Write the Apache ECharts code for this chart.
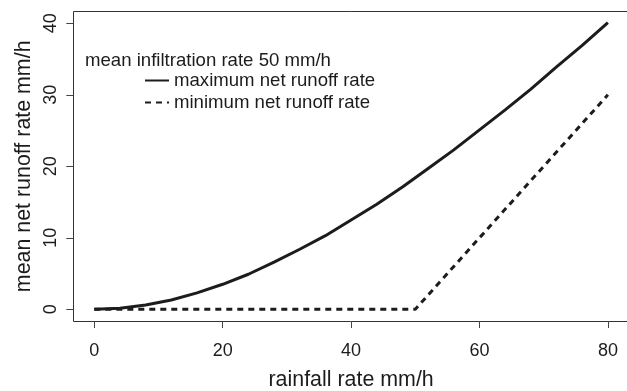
<!DOCTYPE html>
<html>
<head>
<meta charset="utf-8">
<script src="https://cdn.jsdelivr.net/npm/echarts@6/dist/echarts.min.js"></script>
<style>html,body{margin:0;padding:0;background:#fff;}#c{width:627px;height:391px;}</style>
</head>
<body>
<div id="c"></div>
<script>
const rainfall = [0,4,8,12,16,20,24,28,32,36,40,44,48,52,56,60,64,68,72,76,80];
const maxRunoff = [0,0.15,0.6,1.3,2.3,3.5,4.9,6.6,8.4,10.3,12.5,14.7,17.1,19.7,22.3,25.1,27.9,30.8,33.9,36.9,40.1];
const minRainfall = [0,50,80];
const minRunoff = [0,0,30];
const xTicks = [0,20,40,60,80];
const yTicks = [0,10,20,30,40];
const legendTitle = 'mean infiltration rate 50 mm/h';
const seriesNames = ['maximum net runoff rate','minimum net runoff rate'];
const xTitle = 'rainfall rate mm/h';
const yTitle = 'mean net runoff rate mm/h';

const font = "'Liberation Sans', Arial, Helvetica, sans-serif";
const ink = '#1c1c1c';
const chart = echarts.init(document.getElementById('c'));
chart.setOption({
  animation: false,
  backgroundColor: '#fff',
  title: {
    text: legendTitle, left: 80, top: 46,
    textStyle: {fontFamily: font, fontSize: 18.6, fontWeight: 'normal', color: ink}
  },
  legend: {
    orient: 'vertical', left: 139, top: 66, itemGap: 3,
    itemWidth: 24, itemHeight: 14,
    data: seriesNames,
    itemStyle: {opacity: 0},
    textStyle: {fontFamily: font, fontSize: 18.6, color: ink}
  },
  grid: {left: 94.3, top: 23.3, width: 513.6, height: 286, show: false, containLabel: false, outerBoundsMode: 'none'},
  xAxis: [{
    type: 'value', min: xTicks[0], max: xTicks[xTicks.length - 1], interval: 20, offset: 11.7, position: 'bottom',
    name: xTitle, nameLocation: 'middle', nameGap: 49,
    nameTextStyle: {fontFamily: font, fontSize: 21.4, color: ink},
    axisLine: {show: false, onZero: false},
    axisTick: {show: true, length: 7, lineStyle: {color: '#444', width: 1}},
    axisLabel: {fontFamily: font, fontSize: 18, color: ink, margin: 21},
    splitLine: {show: false}
  }],
  yAxis: [{
    type: 'value', min: yTicks[0], max: yTicks[yTicks.length - 1], interval: 10, offset: 21, position: 'left',
    name: yTitle, nameLocation: 'middle', nameGap: 23, nameRotate: 90,
    nameTextStyle: {fontFamily: font, fontSize: 21.4, color: ink},
    axisLine: {show: false, onZero: false},
    axisTick: {show: true, length: 7, lineStyle: {color: '#444', width: 1}},
    axisLabel: {rotate: 90, fontFamily: font, fontSize: 18, color: ink, margin: 13},
    splitLine: {show: false}
  }],
  graphic: [{
    type: 'rect', silent: true, z: 0,
    shape: {x: 73.5, y: 11.5, width: 556, height: 310},
    style: {fill: 'none', stroke: '#333', lineWidth: 1}
  }],
  series: [
    {
      name: seriesNames[0], type: 'line', symbol: 'none', clip: false,
      data: rainfall.map((x, i) => [x, maxRunoff[i]]),
      lineStyle: {color: ink, width: 3}, itemStyle: {color: ink}
    },
    {
      name: seriesNames[1], type: 'line', symbol: 'none', clip: false,
      data: minRainfall.map((x, i) => [x, minRunoff[i]]),
      lineStyle: {color: ink, width: 3, type: [6, 5]}, itemStyle: {color: ink}
    }
  ]
});
</script>
</body>
</html>
